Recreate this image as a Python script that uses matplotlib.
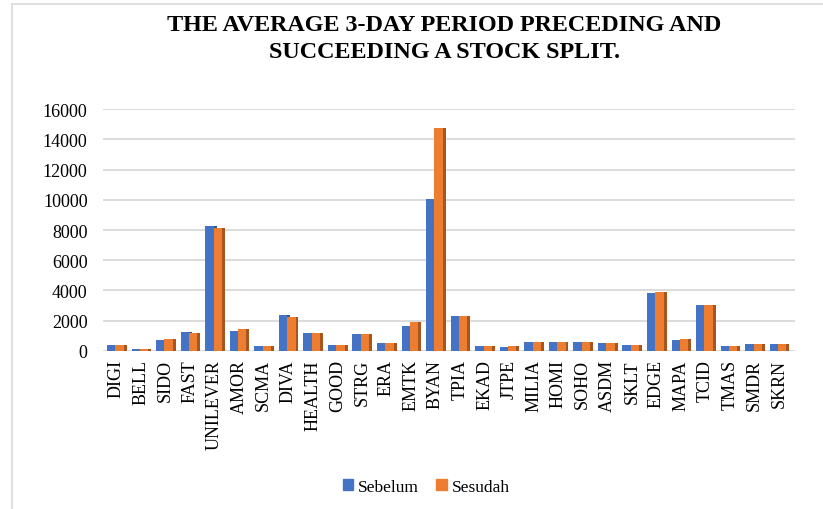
import matplotlib

matplotlib.use("Agg")
import matplotlib.pyplot as plt
from matplotlib.lines import Line2D
from matplotlib.patches import Patch

tickers = [
    "DIGI", "BELL", "SIDO", "FAST", "UNILEVER", "AMOR", "SCMA", "DIVA", "HEALTH", "GOOD",
    "STRG", "ERA", "EMTK", "BYAN", "TPIA", "EKAD", "JTPE", "MILIA", "HOMI", "SOHO",
    "ASDM", "SKLT", "EDGE", "MAPA", "TCID", "TMAS", "SMDR", "SKRN",
]
sebelum = [
    400, 150, 700, 1250, 8250, 1300, 300, 2350, 1180, 370,
    1150, 550, 1680, 10050, 2300, 320, 280, 580, 560, 600,
    520, 420, 3820, 720, 3050, 300, 450, 480,
]
sesudah = [
    400, 150, 800, 1200, 8150, 1450, 300, 2230, 1180, 390,
    1150, 520, 1920, 14780, 2300, 320, 300, 600, 560, 620,
    520, 380, 3920, 760, 3050, 300, 430, 480,
]
y_ticks = [0, 2000, 4000, 6000, 8000, 10000, 12000, 14000, 16000]
title_lines = ["THE AVERAGE 3-DAY PERIOD PRECEDING AND", "SUCCEEDING A STOCK SPLIT."]

BLUE = "#4472C4"
BLUE_DARK = "#2F5597"
ORANGE = "#ED7D31"
ORANGE_DARK = "#A9561E"
SERIF = "Liberation Serif"

fig = plt.figure(figsize=(8.23, 5.10), dpi=100)
ax = fig.add_axes([0.125, 0.31, 0.841, 0.474])

x = list(range(len(tickers)))
w = 0.34
side = 0.12
xb = [i - 0.21 for i in x]
xo = [i + 0.13 for i in x]

ax.bar(xb, sebelum, width=w, color=BLUE, zorder=3)
ax.bar([v + w / 2 + side / 2 for v in xb], sebelum, width=side, color=BLUE_DARK, zorder=2)
ax.bar(xo, sesudah, width=w, color=ORANGE, zorder=4)
ax.bar([v + w / 2 + side / 2 for v in xo], sesudah, width=side, color=ORANGE_DARK, zorder=4)

ax.set_xlim(-0.55, len(tickers) - 0.35)
ax.set_ylim(0, 16000)
ax.set_yticks(y_ticks)
ax.set_yticklabels([str(t) for t in y_ticks], fontfamily=SERIF, fontsize=13)
ax.set_xticks(x)
ax.set_xticklabels(tickers, rotation=90, fontfamily=SERIF, fontsize=13)
ax.tick_params(length=0, pad=11, axis="y")
ax.tick_params(length=0, pad=6, axis="x")
ax.yaxis.grid(True, color="#D9D9D9", linewidth=1.3, zorder=0)
ax.set_axisbelow(True)
for s in ax.spines.values():
    s.set_visible(False)

for ypos, line in zip([0.97, 0.917], title_lines):
    fig.text(0.54, ypos, line, ha="center", va="top", fontfamily=SERIF,
             fontweight="bold", fontsize=17.4)

handles = [Patch(color=BLUE), Patch(color=ORANGE)]
fig.legend(handles, ["Sebelum", "Sesudah"], loc="center", bbox_to_anchor=(0.518, 0.043),
           ncol=2, frameon=False, prop={"family": SERIF, "size": 12.5},
           handlelength=0.6, handleheight=0.6, handletextpad=0.3, columnspacing=1.0)

# chart frame
fig.add_artist(Line2D([0.0146, 0.0146], [0, 0.99], color="#D9D9D9", linewidth=1.2))
fig.add_artist(Line2D([0.0146, 1], [0.99, 0.99], color="#D9D9D9", linewidth=1.2))

fig.savefig("out.png", dpi=100)
